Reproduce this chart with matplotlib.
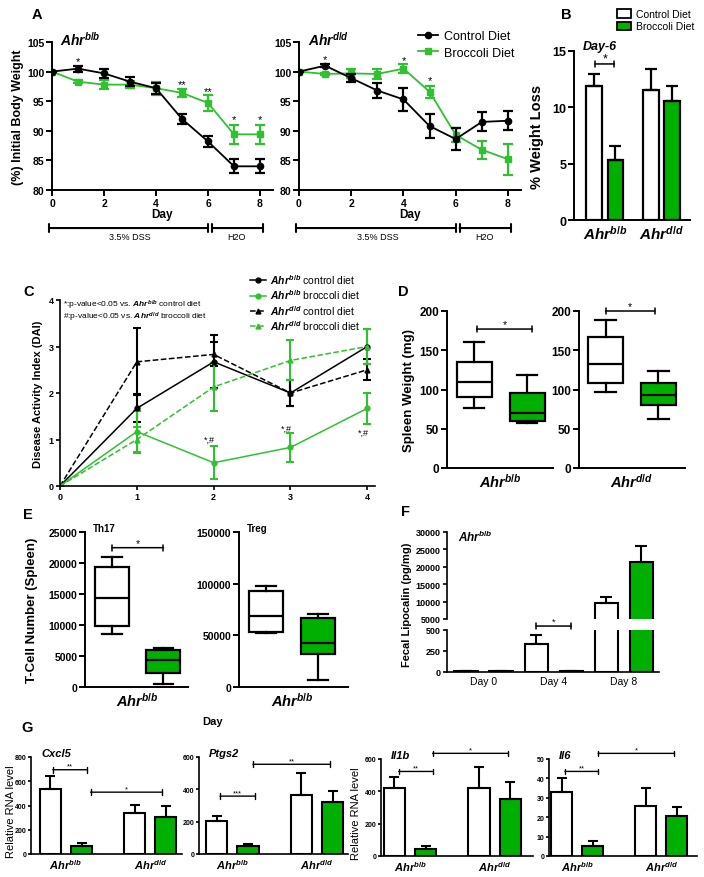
import numpy as np
import matplotlib
matplotlib.use('Agg')
import matplotlib.pyplot as plt
from matplotlib.lines import Line2D
from matplotlib.patches import Patch
import matplotlib.transforms as mtrans

plt.rcParams.update({
    'font.family': ['Liberation Sans', 'DejaVu Sans'],
    'font.weight': 'bold',
    'axes.labelweight': 'bold',
    'mathtext.fontset': 'custom',
    'mathtext.rm': 'Liberation Sans',
    'mathtext.it': 'Liberation Sans:italic',
    'mathtext.bf': 'Liberation Sans:bold',
    'mathtext.bfit': 'Liberation Sans:bold:italic',
    'axes.linewidth': 1.4,
})

# ---------------- data ----------------
# Panel A: % initial body weight
days = [0, 1, 2, 3, 4, 5, 6, 7, 8]
bb_ctrl = [100, 100.5, 99.7, 98.3, 97.2, 92.0, 88.2, 84.0, 84.0]
bb_ctrl_err = [0, 0.5, 0.7, 0.8, 0.9, 0.9, 1.0, 1.2, 1.2]
bb_broc = [100, 98.3, 97.8, 97.8, 97.2, 96.4, 94.7, 89.4, 89.4]
bb_broc_err = [0, 0.3, 0.8, 0.6, 1.1, 0.7, 1.3, 1.6, 1.6]
dd_ctrl = [100, 101.0, 98.9, 96.8, 95.3, 90.8, 88.6, 91.5, 91.7]
dd_ctrl_err = [0, 0.3, 0.7, 1.3, 1.9, 2.0, 1.8, 1.6, 1.6]
dd_broc = [100, 99.6, 99.7, 99.6, 100.5, 96.6, 89.3, 86.8, 85.2]
dd_broc_err = [0, 0.2, 0.8, 0.8, 0.7, 1.0, 1.2, 1.5, 2.6]
bb_star_days = [1, 5, 6, 7, 8]
bb_star_y = [101.7, 97.9, 96.7, 91.9, 91.9]
bb_star_txt = ['*', '**', '**', '*', '*']
dd_star_days = [1, 4, 5]
dd_star_y = [102.1, 102.0, 98.6]
dd_star_txt = ['*', '*', '*']

# Panel B: % weight loss day 6
genotypes = ['b/b', 'd/d']
wl_ctrl = [11.9, 11.5]
wl_ctrl_err = [1.1, 1.9]
wl_broc = [5.3, 10.6]
wl_broc_err = [1.3, 1.3]

# Panel C: DAI
dai_days = [0, 1, 2, 3, 4]
dai_bb_ctrl = [0, 1.67, 2.67, 2.0, 3.0]
dai_bb_ctrl_err = [0, 0.30, 0.57, 0.27, 0.37]
dai_bb_broc = [0, 1.17, 0.5, 0.83, 1.67]
dai_bb_broc_err = [0, 0.45, 0.35, 0.31, 0.33]
dai_dd_ctrl = [0, 2.67, 2.83, 2.0, 2.5]
dai_dd_ctrl_err = [0, 0.72, 0.26, 0.27, 0.23]
dai_dd_broc = [0, 1.0, 2.13, 2.7, 3.0]
dai_dd_broc_err = [0, 0.27, 0.52, 0.43, 0.37]
dai_sig_days = [2, 3, 4]
dai_sig_y = [1.0, 1.25, 1.15]

# Panel D: spleen weight box stats (whislo, q1, med, q3, whishi)
spleen_bb_ctrl = [76, 90, 110, 135, 161]
spleen_bb_broc = [57, 60, 70, 95, 118]
spleen_dd_ctrl = [97, 108, 133, 167, 188]
spleen_dd_broc = [62, 80, 93, 108, 124]

# Panel E: T cell numbers
th17_ctrl = [8500, 9800, 14300, 19300, 21000]
th17_broc = [450, 2250, 4400, 6000, 6250]
treg_ctrl = [52500, 53500, 68300, 92800, 98000]
treg_broc = [7000, 32000, 42300, 67000, 70300]

# Panel F: fecal lipocalin
lip_days = ['Day 0', 'Day 4', 'Day 8']
lip_ctrl = [8, 330, 9520]
lip_ctrl_err = [0, 115, 1920]
lip_broc = [8, 8, 21250]
lip_broc_err = [0, 0, 4620]

# Panel G: relative RNA
genes = ['Cxcl5', 'Ptgs2', 'Il1b', 'Il6']
rna_ctrl = [[532, 339], [207, 366], [418, 418], [33.1, 25.7]]
rna_ctrl_err = [[111, 64], [25, 137], [72, 130], [7.1, 9.1]]
rna_broc = [[69, 309], [52, 321], [45, 352], [5.2, 20.7]]
rna_broc_err = [[19, 83], [10, 66], [15, 107], [2.6, 4.8]]

GL = '#2fc12f'
GB = '#00b000'
AHR_BB = r'$\mathbfit{Ahr}^{\mathit{b/b}}$'
AHR_DD = r'$\mathbfit{Ahr}^{\mathit{d/d}}$'

W, H = 704, 878
fig = plt.figure(figsize=(W / 100, H / 100), dpi=100)


def pax(x0, x1, yt, yb):
    return fig.add_axes([x0 / W, 1 - yb / H, (x1 - x0) / W, (yb - yt) / H])


def ftext(x, y, s, **kw):
    kw.setdefault('ha', 'center')
    kw.setdefault('va', 'center')
    return fig.text(x / W, 1 - y / H, s, **kw)


def style(ax, fs=7, lw=1.4, length=4):
    for s in ['top', 'right']:
        ax.spines[s].set_visible(False)
    for s in ['left', 'bottom']:
        ax.spines[s].set_linewidth(lw)
    ax.tick_params(width=lw, length=length, labelsize=fs, pad=1.5)


def sig(ax, x0, x1, y, txt, fs=7, lw=1.1, w=0.22):
    ax.annotate('', xy=(x0, y), xytext=(x1, y), annotation_clip=False,
                arrowprops=dict(arrowstyle='|-|,widthA=%g,widthB=%g' % (w, w),
                                lw=lw, color='k', shrinkA=0, shrinkB=0))
    ax.text((x0 + x1) / 2, y, txt, ha='center', va='bottom', fontsize=fs,
            fontweight='normal', clip_on=False)


# ---------------- Panel A ----------------
def panelA(ax, ctrl, cerr, broc, berr, sd, sy, st, title, x0px):
    ax.errorbar(days, ctrl, yerr=cerr, color='k', marker='o', ms=4.5, lw=1.3,
                capsize=3.5, capthick=1.6, elinewidth=1.6, zorder=3)
    ax.errorbar(days, broc, yerr=berr, color=GL, marker='s', ms=4.5, lw=1.3,
                capsize=3.5, capthick=1.6, elinewidth=1.6, zorder=2)
    ax.set_xlim(0, 8.5)
    ax.set_ylim(80, 105)
    ax.set_xticks([0, 2, 4, 6, 8])
    ax.set_yticks([80, 85, 90, 95, 100, 105])
    style(ax, fs=7.5)
    for d, y, t in zip(sd, sy, st):
        ax.text(d, y, t, ha='center', va='center', fontsize=8, fontweight='normal')
    ax.set_xlabel('Day', fontsize=8.5, labelpad=0)
    tr = mtrans.blended_transform_factory(ax.transData, ax.transAxes)
    yb = -0.257
    for xa, xb in [(-0.1, 6.0), (6.15, 8.1)]:
        ax.annotate('', xy=(xa, yb), xytext=(xb, yb), xycoords=tr, textcoords=tr,
                    annotation_clip=False,
                    arrowprops=dict(arrowstyle='|-|,widthA=0.3,widthB=0.3', lw=1.5,
                                    color='k', shrinkA=0, shrinkB=0))
    ax.text(3.0, -0.315, '3.5% DSS', transform=tr, ha='center', va='center',
            fontsize=6.5, fontweight='normal')
    ax.text(7.1, -0.315, 'H2O', transform=tr, ha='center', va='center',
            fontsize=6.5, fontweight='normal')
    ftext(x0px, 40, title, ha='left', fontsize=10)


axA1 = pax(52, 273, 43, 191)
panelA(axA1, bb_ctrl, bb_ctrl_err, bb_broc, bb_broc_err, bb_star_days, bb_star_y,
       bb_star_txt, AHR_BB, 60)
axA1.set_ylabel('(%) Initial Body Weight', fontsize=9, labelpad=2)
axA2 = pax(299, 521, 43, 191)
panelA(axA2, dd_ctrl, dd_ctrl_err, dd_broc, dd_broc_err, dd_star_days, dd_star_y,
       dd_star_txt, AHR_DD, 308)

legA = [Line2D([], [], color='k', marker='o', ms=4.5, lw=1.3),
        Line2D([], [], color=GL, marker='s', ms=4.5, lw=1.3)]
fig.legend(legA, ['Control Diet', 'Broccoli Diet'], loc='upper left',
           bbox_to_anchor=(412 / W, 1 - 25 / H), frameon=False, handlelength=1.6,
           handletextpad=0.5, labelspacing=0.35, borderpad=0,
           prop={'size': 9, 'weight': 'normal'})

# ---------------- Panel B ----------------
axB = pax(574, 690, 52, 221)
posB_c = [0, 2.65]
posB_b = [1, 3.65]
axB.bar(posB_c, wl_ctrl, 0.74, color='white', edgecolor='k', lw=1.6,
        yerr=[[0, 0], wl_ctrl_err],
        error_kw=dict(ecolor='k', elinewidth=1.6, capsize=4, capthick=1.6))
axB.bar(posB_b, wl_broc, 0.74, color=GB, edgecolor='k', lw=1.6,
        yerr=[[0, 0], wl_broc_err],
        error_kw=dict(ecolor='k', elinewidth=1.6, capsize=4, capthick=1.6))
axB.set_xlim(-0.93, 4.47)
axB.set_ylim(0, 15)
axB.set_yticks([0, 5, 10, 15])
style(axB, fs=9)
axB.set_xticks([0.5, 3.15])
axB.set_xticklabels([AHR_BB, AHR_DD], fontsize=11)
axB.tick_params(axis='x', length=0, pad=3)
sig(axB, 0.05, 0.95, 13.85, '*', fs=9)
ftext(600, 47, 'Day-6', fontsize=9, fontstyle='italic')
axB.set_ylabel('% Weight Loss', fontsize=10.5, labelpad=6)
legB = [Patch(facecolor='white', edgecolor='k', lw=1.3),
        Patch(facecolor=GB, edgecolor='k', lw=1.3)]
fig.legend(legB, ['Control Diet', 'Broccoli Diet'], loc='upper left',
           bbox_to_anchor=(612 / W, 1 - 5 / H), frameon=False, handlelength=1.3,
           handleheight=0.85, handletextpad=0.5, labelspacing=0.2, borderpad=0,
           prop={'size': 7.5, 'weight': 'normal'})

# ---------------- Panel C ----------------
axC = pax(60, 375, 301, 487)
ekw = dict(capsize=3, capthick=1.5, elinewidth=1.5, lw=1.1)
axC.errorbar(dai_days, dai_bb_ctrl, yerr=dai_bb_ctrl_err, color='k', marker='o',
             ms=3.5, ls='-', **ekw)
axC.errorbar(dai_days, dai_dd_ctrl, yerr=dai_dd_ctrl_err, color='k', marker='^',
             ms=3.5, ls='--', **ekw)
axC.errorbar(dai_days, dai_dd_broc, yerr=dai_dd_broc_err, color=GL, marker='^',
             ms=3.5, ls='--', **ekw)
axC.errorbar(dai_days, dai_bb_broc, yerr=dai_bb_broc_err, color=GL, marker='o',
             ms=3.5, ls='-', **ekw)
axC.set_xlim(0, 4.1)
axC.set_ylim(0, 4)
axC.set_xticks([0, 1, 2, 3, 4])
axC.set_yticks([0, 1, 2, 3, 4])
style(axC, fs=6.5, lw=1.2, length=3)
for d, y in zip(dai_sig_days, dai_sig_y):
    axC.text(d - 0.05, y, '*,#', ha='center', va='center', fontsize=6.5,
             fontweight='normal')
axC.set_ylabel('Disease Activity Index (DAI)', fontsize=8, labelpad=4)
ftext(63, 305, r'*:p-value<0.05 vs. $\mathit{Ahr}^{\mathit{b/b}}$ control diet',
      ha='left', fontsize=6, fontweight='normal')
ftext(63, 317, r'#:p-value<0.05 vs. $\mathit{Ahr}^{\mathit{d/d}}$ broccoli diet',
      ha='left', fontsize=6, fontweight='normal')
legC = [Line2D([], [], color='k', marker='o', ms=3.5, lw=1.1, ls='-'),
        Line2D([], [], color=GL, marker='o', ms=3.5, lw=1.1, ls='-'),
        Line2D([], [], color='k', marker='^', ms=3.5, lw=1.1, ls='--'),
        Line2D([], [], color=GL, marker='^', ms=3.5, lw=1.1, ls='--')]
labC = [r'$\mathit{Ahr}^{\mathit{b/b}}$ control diet',
        r'$\mathit{Ahr}^{\mathit{b/b}}$ broccoli diet',
        r'$\mathit{Ahr}^{\mathit{d/d}}$ control diet',
        r'$\mathit{Ahr}^{\mathit{d/d}}$ broccoli diet']
fig.legend(legC, labC, loc='upper left', bbox_to_anchor=(245 / W, 1 - 268 / H),
           frameon=False, handlelength=1.5, handletextpad=0.4, labelspacing=0.15,
           borderpad=0, prop={'size': 7.5, 'weight': 'normal'})


# ---------------- Box helpers ----------------
def stats(v):
    return dict(whislo=v[0], q1=v[1], med=v[2], q3=v[3], whishi=v[4], fliers=[])


def boxes(ax, ctrl, broc, width=0.66, capw=0.38, lw=1.6):
    bp = ax.bxp([stats(ctrl), stats(broc)], positions=[1, 2], widths=width,
                showfliers=False, patch_artist=True, capwidths=capw,
                boxprops=dict(lw=lw, edgecolor='k'),
                medianprops=dict(color='k', lw=lw),
                whiskerprops=dict(color='k', lw=lw),
                capprops=dict(color='k', lw=lw))
    bp['boxes'][0].set_facecolor('white')
    bp['boxes'][1].set_facecolor(GB)


# ---------------- Panel D ----------------
axD1 = pax(447, 553, 312, 469)
boxes(axD1, spleen_bb_ctrl, spleen_bb_broc)
axD1.set_xlim(0.49, 2.49)
axD1.set_ylim(0, 200)
axD1.set_yticks([0, 50, 100, 150, 200])
style(axD1, fs=8.5)
axD1.set_xticks([1.5])
axD1.set_xticklabels([AHR_BB], fontsize=10.5)
axD1.tick_params(axis='x', length=0, pad=3)
sig(axD1, 1.05, 2.1, 177, '*', fs=7.5)
axD1.set_ylabel('Spleen Weight (mg)', fontsize=9.5, labelpad=3)

axD2 = pax(579, 685, 312, 469)
boxes(axD2, spleen_dd_ctrl, spleen_dd_broc)
axD2.set_xlim(0.5, 2.5)
axD2.set_ylim(0, 200)
axD2.set_yticks([0, 50, 100, 150, 200])
style(axD2, fs=8.5)
axD2.set_xticks([1.5])
axD2.set_xticklabels([AHR_DD], fontsize=10.5)
axD2.tick_params(axis='x', length=0, pad=3)
sig(axD2, 1.0, 1.93, 200, '*', fs=7.5)

# ---------------- Panel E ----------------
axE1 = pax(85, 188, 533, 688)
boxes(axE1, th17_ctrl, th17_broc)
axE1.set_xlim(0.476, 2.476)
axE1.set_ylim(0, 25000)
axE1.set_yticks([0, 5000, 10000, 15000, 20000, 25000])
style(axE1, fs=7.5)
axE1.set_xticks([1.5])
axE1.set_xticklabels([AHR_BB], fontsize=10.5)
axE1.tick_params(axis='x', length=0, pad=3)
sig(axE1, 1.0, 2.0, 22470, '*', fs=7.5)
axE1.set_ylabel('T-Cell Number (Spleen)', fontsize=9.5, labelpad=3)
axE1.yaxis.set_label_coords(-(85 - 38) / 103, 0.5)
ftext(93, 529, 'Th17', ha='left', fontsize=7)

axE2 = pax(239, 348, 533, 688)
boxes(axE2, treg_ctrl, treg_broc)
axE2.set_xlim(0.48, 2.58)
axE2.set_ylim(0, 150000)
axE2.set_yticks([0, 50000, 100000, 150000])
style(axE2, fs=7.5)
axE2.set_xticks([1.5])
axE2.set_xticklabels([AHR_BB], fontsize=10.5)
axE2.tick_params(axis='x', length=0, pad=3)
ftext(247, 529, 'Treg', ha='left', fontsize=7)

# ---------------- Panel F ----------------
axFt = pax(447, 659, 533, 620)
axFb = pax(447, 659, 631, 673)
posF_c = [0, 2, 4]
posF_b = [1, 3, 5]
for ax in (axFt, axFb):
    ax.bar(posF_c, lip_ctrl, 0.66, color='white', edgecolor='k', lw=1.5,
           yerr=[[0, 0, 0], lip_ctrl_err],
           error_kw=dict(ecolor='k', elinewidth=1.5, capsize=4, capthick=1.5))
    ax.bar(posF_b, lip_broc, 0.66, color=GB, edgecolor='k', lw=1.5,
           yerr=[[0, 0, 0], lip_broc_err],
           error_kw=dict(ecolor='k', elinewidth=1.5, capsize=4, capthick=1.5))
    ax.set_xlim(-0.54, 5.5)
    style(ax, fs=6.5, lw=1.2, length=3)
axFt.set_ylim(5000, 30000)
axFt.set_yticks([5000, 10000, 15000, 20000, 25000, 30000])
axFt.spines['bottom'].set_visible(False)
axFt.set_xticks([])
axFb.set_ylim(0, 500)
axFb.set_yticks([0, 250, 500])
axFb.set_xticks([0.5, 2.5, 4.5])
axFb.set_xticklabels(lip_days, fontsize=7.5, fontweight='normal')
axFb.tick_params(axis='x', length=0, pad=3)
sig(axFb, 2.0, 3.0, 547, '*', fs=6.5)
ftext(407, 605, 'Fecal Lipocalin (pg/mg)', rotation=90, fontsize=8)
ftext(458, 537, AHR_BB, ha='left', fontsize=8.5)

# ---------------- Panel G ----------------
g_axes_px = [(31, 182, 758, 855), (199, 348, 758, 855), (381, 533, 760, 857),
             (549, 697, 760, 857)]
g_xlims = [(-0.62, 4.22), (-0.56, 4.19), (-0.43, 4.43), (-0.41, 4.35)]
g_ylim = [800, 600, 600, 50]
g_ystep = [200, 200, 200, 10]
g_brackets = [[(0.08, 1.16, 695, '**'), (1.29, 3.57, 510, '*')],
              [(0.11, 1.22, 358, '***'), (1.16, 3.63, 555, '**')],
              [(0.14, 1.22, 523, '**'), (1.22, 3.63, 635, '*')],
              [(0.10, 1.17, 43.6, '**'), (1.17, 3.62, 52.9, '*')]]
posG_c = [0, 2.7]
posG_b = [1, 3.7]
for i, g in enumerate(genes):
    x0, x1, yt, yb = g_axes_px[i]
    ax = pax(x0, x1, yt, yb)
    ax.bar(posG_c, rna_ctrl[i], 0.68, color='white', edgecolor='k', lw=1.5,
           yerr=[[0, 0], rna_ctrl_err[i]],
           error_kw=dict(ecolor='k', elinewidth=1.5, capsize=3.5, capthick=1.5))
    ax.bar(posG_b, rna_broc[i], 0.68, color=GB, edgecolor='k', lw=1.5,
           yerr=[[0, 0], rna_broc_err[i]],
           error_kw=dict(ecolor='k', elinewidth=1.5, capsize=3.5, capthick=1.5))
    ax.set_xlim(*g_xlims[i])
    ax.set_ylim(0, g_ylim[i])
    ax.set_yticks(np.arange(0, g_ylim[i] + 1, g_ystep[i]))
    style(ax, fs=5, lw=1.2, length=2.5)
    ax.tick_params(axis='y', pad=1)
    ax.set_xticks([0.5, 3.2])
    ax.set_xticklabels([AHR_BB, AHR_DD], fontsize=8)
    ax.tick_params(axis='x', length=0, pad=2)
    for (a, b, y, t) in g_brackets[i]:
        sig(ax, a, b, y, t, fs=5.5, lw=1.0, w=0.2)
    ftext(x0 + 10, yt - 4, g, ha='left', fontsize=8, fontstyle='italic')
    if i in (0, 2):
        ax.set_ylabel('Relative RNA level', fontsize=8, fontweight='normal')
        ax.yaxis.set_label_coords(-(x0 - (16 if i == 0 else 361)) / (x1 - x0), 0.45)

# ---------------- panel letters & misc ----------------
for L, x, y in [('A', 37, 15), ('B', 566, 15), ('C', 29, 292), ('D', 403, 292),
                ('E', 28, 515), ('F', 405, 512), ('G', 27, 728)]:
    ftext(x, y, L, fontsize=10.5)
ftext(213, 722, 'Day', fontsize=8)

fig.savefig('out.png', dpi=100)
